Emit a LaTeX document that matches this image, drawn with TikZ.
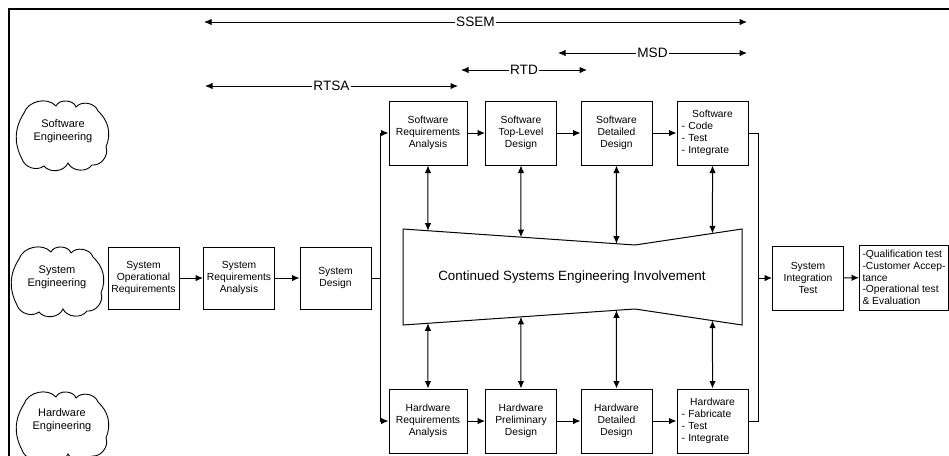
\documentclass[tikz,border=0pt]{standalone}
\usepackage{fontspec}
\setmainfont{Liberation Sans}
\usetikzlibrary{arrows.meta}

\tikzset{
  >={Latex[length=7.5pt,width=6.5pt]},
  box/.style={draw, line width=1pt, minimum width=71pt, minimum height=64pt,
    inner sep=2pt, align=center, font=\fontsize{10.3}{12}\selectfont},
  flow/.style={->, line width=1pt},
  link/.style={line width=1pt},
  span/.style={<->, line width=1pt},
  spanlabel/.style={fill=white, inner sep=1.5pt, font=\fontsize{13.6}{15}\selectfont},
  blobtext/.style={align=center, font=\fontsize{11}{13}\selectfont},
  blob/.pic={
    \draw[line width=0.9pt] (-38,-20) to[bend left=60] (-6,-27) to[bend left=70] (14,-26)
      to[bend left=60] (36,-22) to[bend left=35] (44,14) to[bend left=60] (30,32)
      to[bend left=60] (6,30) to[bend left=60] (-18,33) to[bend left=55] (-40,26)
      to[bend left=30] (-38,-20) -- cycle;
  }
}

\begin{document}
\begin{tikzpicture}[x=1pt,y=-1pt]
\useasboundingbox (0,0) rectangle (949,455);

% outer frame (only top and left edge show)
\draw[line width=2pt] (9,470) -- (9,9) -- (960,9);

% clouds
\pic at (62,133) {blob};
\node[blobtext] (swcloud) at (63,131) {Software\\Engineering};
\pic at (57,279) {blob};
\node[blobtext] (syscloud) at (57,277) {System\\Engineering};
\pic at (62,424) {blob};
\node[blobtext] (hwcloud) at (62,420) {Hardware\\Engineering};

% system row
\node[box, minimum height=62pt] (sor) at (143.5,278) {System\\Operational\\Requirements};
\node[box, minimum height=62pt] (sysra) at (239,278) {System\\Requirements\\Analysis};
\node[box, minimum height=62pt] (sysd) at (335.5,278) {System\\Design};

% software row
\node[box, minimum width=78pt] (swra) at (428,133) {Software\\Requirements\\Analysis};
\node[box] (swtop) at (521,133) {Software\\Top-Level\\Design};
\node[box] (swdet) at (616.5,133) {Software\\Detailed\\Design};
\node[box, text width=62pt, align=left] (swcode) at (712.5,133)
  {\makebox[\linewidth]{Software}\\- Code\\- Test\\- Integrate};

% hardware row
\node[box, minimum width=78pt] (hwra) at (428,421) {Hardware\\Requirements\\Analysis};
\node[box] (hwpre) at (521,421) {Hardware\\Preliminary\\Design};
\node[box] (hwdet) at (616.5,421) {Hardware\\Detailed\\Design};
\node[box, text width=62pt, align=left] (hwfab) at (712.5,421)
  {\makebox[\linewidth]{Hardware}\\- Fabricate\\- Test\\- Integrate};

% integration and acceptance
\node[box] (sit) at (808,278) {System\\Integration\\Test};
\node[box, anchor=west, minimum width=89pt, minimum height=65pt, inner sep=3pt,
  align=left, font=\fontsize{10.3}{11.7}\selectfont] (accept) at (859,277.5)
  {-Qualification test\\-Customer Accep-\\tance\\-Operational test\\\& Evaluation};

% systems engineering bow-tie
\coordinate (tl) at (403,229);
\coordinate (tm) at (635,245);
\coordinate (tr) at (742,229);
\coordinate (br) at (742,325);
\coordinate (bm) at (635,309);
\coordinate (bl) at (403,325);
\draw[link] (tl) -- (tm) -- (tr) -- (br) -- (bm) -- (bl) -- cycle;
\node[font=\fontsize{13.4}{15}\selectfont] (cse) at (572,277)
  {Continued Systems Engineering Involvement};

\foreach \sw/\hw/\p/\q/\r/\s in {swra/hwra/tl/tm/bl/bm, swtop/hwpre/tl/tm/bl/bm,
    swdet/hwdet/tl/tm/bl/bm, swcode/hwfab/tm/tr/bm/br}{
  \draw[span] (\sw) -- (intersection of \sw.south--\hw.north and \p--\q);
  \draw[span] (\hw) -- (intersection of \sw.south--\hw.north and \r--\s);
}

% flow
\draw[flow] (sor) -- (sysra);
\draw[flow] (sysra) -- (sysd);
\coordinate (fork) at (380,278);
\draw[link] (sysd) -- (fork);
\draw[flow] (fork) |- (swra);
\draw[flow] (fork) |- (hwra);
\draw[flow] (swra) -- (swtop);
\draw[flow] (swtop) -- (swdet);
\draw[flow] (swdet) -- (swcode);
\draw[flow] (hwra) -- (hwpre);
\draw[flow] (hwpre) -- (hwdet);
\draw[flow] (hwdet) -- (hwfab);
\coordinate (merge) at (758,278);
\draw[link] (swcode) -| (merge);
\draw[link] (hwfab) -| (merge);
\draw[flow] (merge) -- (sit);
\draw[flow] (sit) -- (accept);

% phase spans
\coordinate (ssemA) at (204,22);
\coordinate (ssemB) at (747,22);
\coordinate (msdA) at (558,53);
\coordinate (msdB) at (747,53);
\coordinate (rtdA) at (461,70);
\coordinate (rtdB) at (587,70);
\coordinate (rtsaA) at (205,86);
\coordinate (rtsaB) at (458,86);
\draw[span] (ssemA) -- node[spanlabel] (ssem) {SSEM} (ssemB);
\draw[span] (msdA) -- node[spanlabel] (msd) {MSD} (msdB);
\draw[span] (rtdA) -- node[spanlabel] (rtd) {RTD} (rtdB);
\draw[span] (rtsaA) -- node[spanlabel] (rtsa) {RTSA} (rtsaB);

\end{tikzpicture}
\end{document}
